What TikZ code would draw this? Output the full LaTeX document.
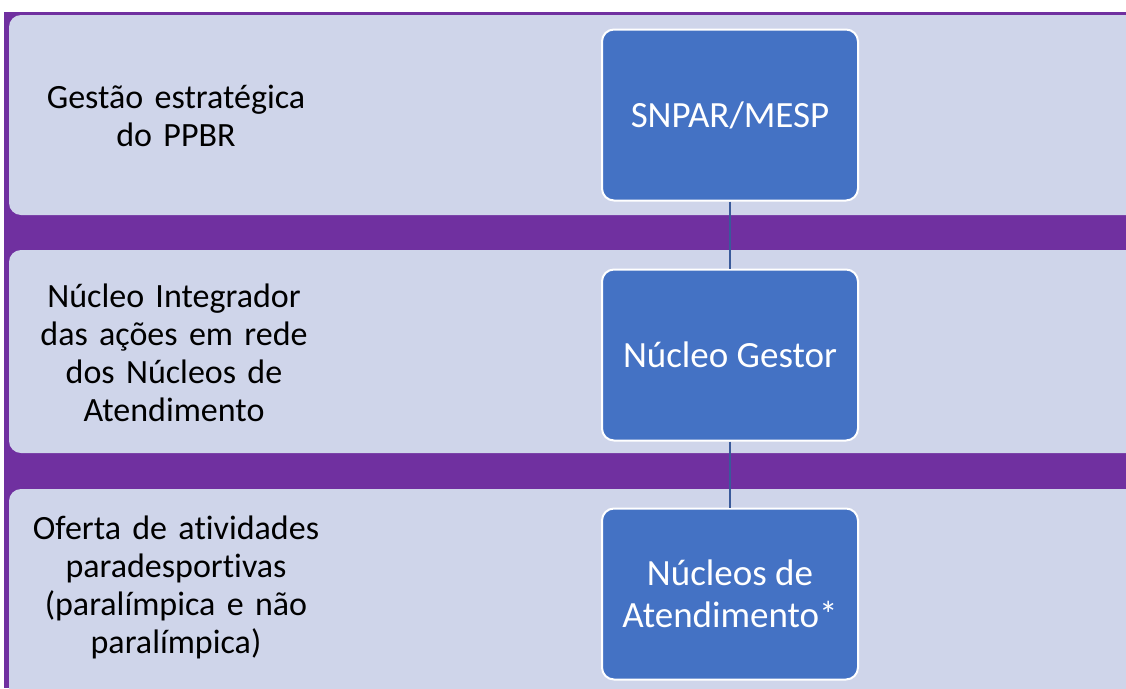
\documentclass[tikz,border=0pt]{standalone}
\usepackage{fontspec}
\setmainfont{Carlito}[Ligatures = NoCommon]
\usepackage{tikz}
\definecolor{roxo}{HTML}{7030A0}
\definecolor{faixa}{HTML}{CFD5EA}
\definecolor{azul}{HTML}{4472C4}
\definecolor{linha}{HTML}{3A5A9A}
\begin{document}
\begin{tikzpicture}[x = 1pt, y = -1pt,
                        band/.style = {fill = faixa, rounded corners = 12pt},
                        unit/.style = {rectangle, draw = white, line width = 2pt, fill = azul, rounded corners = 12pt,
                                       minimum width = 256pt, minimum height = 171pt, text = white, align = center,
                                       font = \fontsize{37}{42}\selectfont},
                        label/.style = {align = center, text width = 340pt, font = \fontsize{34}{38}\selectfont}]
      \useasboundingbox (0, 0) rectangle (1126, 688);
      \clip (0, 0) rectangle (1126, 688);
      \fill [roxo] (4, 12) rectangle (1126, 688);
      \fill [band] (9, 15) rectangle (1150, 215);
      \fill [band] (9, 250) rectangle (1150, 453);
      \fill [band] (9, 489) rectangle (1150, 710);
      \node [label] (t1) at (176, 116){Gestão estratégica\\do PPBR};
      \node [label] (t2) at (174, 353){Núcleo Integrador\\das ações em rede\\dos Núcleos de\\Atendimento};
      \node [label] (t3) at (176, 587){Oferta de atividades\\paradesportivas\\(paralímpica e não\\paralímpica)};
      \node [unit] (b1) at (730, 115){SNPAR/MESP};
      \node [unit] (b2) at (730, 355){Núcleo Gestor};
      \node [unit] (b3) at (730, 594){Núcleos de\\Atendimento*};
      \draw [linha, line width = 2pt] (b1) -- (b2) -- (b3);
    \end{tikzpicture}
\end{document}
